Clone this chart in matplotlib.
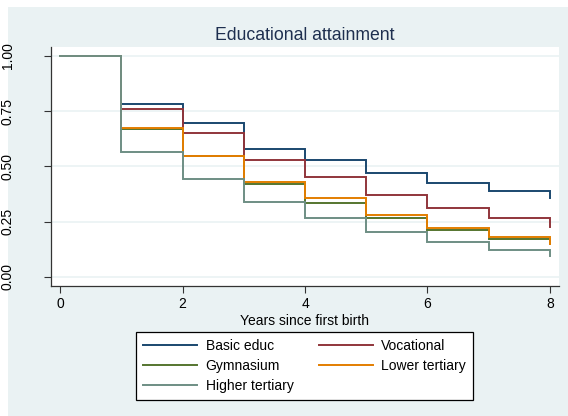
import matplotlib
matplotlib.use("Agg")
import matplotlib.pyplot as plt
from matplotlib.patches import Rectangle

plt.rcParams['font.family'] = ['Liberation Sans', 'DejaVu Sans']

# Kaplan-Meier style survival estimates by years since first birth
years = [0, 1, 2, 3, 4, 5, 6, 7, 8]
basic_educ = [1.00, 0.782, 0.698, 0.580, 0.529, 0.470, 0.423, 0.390, 0.355]
vocational = [1.00, 0.761, 0.652, 0.529, 0.453, 0.370, 0.313, 0.265, 0.227]
gymnasium = [1.00, 0.668, 0.545, 0.419, 0.335, 0.265, 0.210, 0.171, 0.150]
lower_tertiary = [1.00, 0.672, 0.548, 0.428, 0.357, 0.281, 0.221, 0.181, 0.148]
higher_tertiary = [1.00, 0.565, 0.444, 0.338, 0.267, 0.201, 0.157, 0.121, 0.095]

series_names = ["Basic educ", "Vocational", "Gymnasium", "Lower tertiary", "Higher tertiary"]
series_values = [basic_educ, vocational, gymnasium, lower_tertiary, higher_tertiary]
colors = ["#1A476F", "#90353B", "#55752F", "#E37E00", "#6E8E84"]

x_ticks = [0, 2, 4, 6, 8]
y_ticks = [0.00, 0.25, 0.50, 0.75, 1.00]
y_ticklabels = ["0.00", "0.25", "0.50", "0.75", "1.00"]

W, H = 568, 416
fig = plt.figure(figsize=(W / 100, H / 100), dpi=100, facecolor="white")
bg = "#EAF2F3"
fig.patches.append(Rectangle((8 / W, 0), 1 - 8 / W, 1 - 7 / H, transform=fig.transFigure,
                             facecolor=bg, edgecolor="none", zorder=-10))

left, right, top, bottom = 51, 559, 47, 286
ax = fig.add_axes([left / W, 1 - bottom / H, (right - left) / W, (bottom - top) / H])
ax.set_facecolor("white")

# draw order so that orange sits above green where they coincide
lines = {}
for i in [4, 2, 3, 1, 0]:
    lines[i], = ax.plot(years, series_values[i], drawstyle="steps-post", color=colors[i],
                        lw=1.4, solid_joinstyle="miter", zorder=3 + i * 0.01)

ax.set_xlim(-0.147, 8.147)
ax.set_ylim(-0.042, 1.041)

ax.set_xticks(x_ticks)
ax.set_xticklabels([str(t) for t in x_ticks], fontsize=10)
ax.set_yticks(y_ticks)
ax.set_yticklabels(y_ticklabels, fontsize=10, rotation=90, va="center")
ax.tick_params(axis="both", direction="out", length=5, width=0.8, color="#333333")
ax.tick_params(axis="y", pad=21)
ax.tick_params(axis="x", pad=3)
ax.grid(axis="y", color=bg, lw=1.2, zorder=0)

for s in ["top", "right"]:
    ax.spines[s].set_visible(False)
for s in ["left", "bottom"]:
    ax.spines[s].set_color("#333333")
    ax.spines[s].set_linewidth(0.9)

ax.set_xlabel("Years since first birth", fontsize=10, labelpad=2)
ax.set_title("Educational attainment", fontsize=12.7, color="#1E2F4F", pad=5)

# legend filled row by row: two entries per row
leg_order = [0, 2, 4, 1, 3]
leg = fig.legend([lines[i] for i in leg_order], [series_names[i] for i in leg_order],
                 loc="center", ncol=2, bbox_to_anchor=(304.5 / W, 1 - 366 / H), fontsize=10,
                 frameon=True, fancybox=False, edgecolor="black", facecolor="white",
                 framealpha=1, handlelength=3.9, handletextpad=0.6, columnspacing=1.8,
                 labelspacing=0.45, borderpad=0.5)
leg.get_frame().set_linewidth(0.9)

fig.savefig("out.png", dpi=100, facecolor="white")
